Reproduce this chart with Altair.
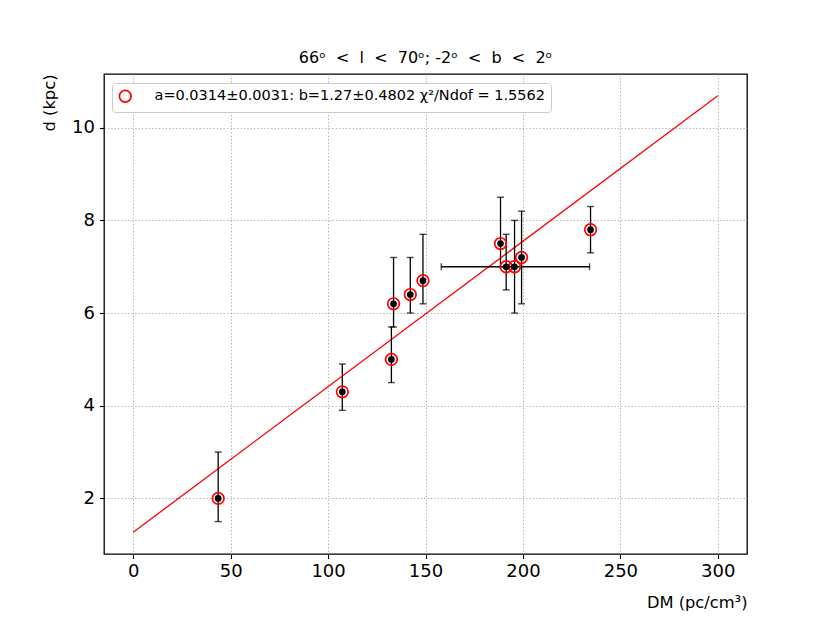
import altair as alt
import pandas as pd

# ---- data ----
dm = [43.6, 107.3, 132.5, 133.6, 142.2, 148.7, 188.5, 191.4, 195.7, 199.3, 234.7]
d = [2.0, 4.3, 5.0, 6.2, 6.4, 6.7, 7.5, 7.0, 7.0, 7.2, 7.8]
d_lo = [1.5, 3.9, 4.5, 5.7, 6.0, 6.2, 7.0, 6.5, 6.0, 6.2, 7.3]
d_hi = [3.0, 4.9, 5.7, 7.2, 7.2, 7.7, 8.5, 7.7, 8.0, 8.2, 8.3]

# horizontal error bar (only one point has a DM error)
hx = [195.7]
hy = [7.0]
hx_lo = [158.1]
hx_hi = [234.2]

fit_x = [0, 300]
fit_y = [1.27, 10.69]

legend_label = "a=0.0314±0.0031: b=1.27±0.4802 χ²/Ndof = 1.5562"
NB = "\u00a0"
title_text = f"66ᵒ{NB}{NB}<{NB}{NB}l{NB}{NB}<{NB}{NB}70ᵒ; -2ᵒ{NB}{NB}<{NB}{NB}b{NB}{NB}<{NB}{NB}2ᵒ"

pts = pd.DataFrame({"dm": dm, "d": d, "lo": d_lo, "hi": d_hi, "lab": [legend_label] * len(dm)})
hbar = pd.DataFrame({"x": hx, "y": hy, "xlo": hx_lo, "xhi": hx_hi})
fit = pd.DataFrame({"x": fit_x, "y": fit_y})

FONT = "DejaVu Sans"
xs = alt.Scale(domain=[-15, 315], nice=False, zero=False)
ys = alt.Scale(domain=[0.80, 11.16], nice=False, zero=False)

GRID = dict(grid=True, gridColor="#b0b0b0", gridDash=[1.3, 2.1], gridWidth=1.0,
            domain=False, tickColor="black", tickSize=4.5, tickWidth=1.1,
            labelColor="black", titleColor="black", labelFont=FONT, titleFont=FONT,
            labelFontSize=18, titleFontSize=16.3, titleFontWeight="normal")

xaxis = alt.Axis(values=[0, 50, 100, 150, 200, 250, 300], title="DM (pc/cm³)",
                 titleAnchor="end", titlePadding=14, labelPadding=4, **GRID)
yaxis = alt.Axis(values=[2, 4, 6, 8, 10], title="d (kpc)", titleAnchor="end",
                 titlePadding=14, labelPadding=5, **GRID)

base = alt.Chart(pts)

fit_line = alt.Chart(fit).mark_line(color="red", strokeWidth=1.3).encode(
    x=alt.X("x:Q", scale=xs, axis=xaxis),
    y=alt.Y("y:Q", scale=ys, axis=yaxis),
)

vbars = base.mark_rule(color="black", strokeWidth=1.3).encode(
    x=alt.X("dm:Q", scale=xs), y=alt.Y("lo:Q", scale=ys), y2="hi:Q"
)
cap_lo = base.mark_tick(color="black", orient="horizontal", size=7, thickness=1.4).encode(
    x=alt.X("dm:Q", scale=xs), y=alt.Y("lo:Q", scale=ys)
)
cap_hi = base.mark_tick(color="black", orient="horizontal", size=7, thickness=1.4).encode(
    x=alt.X("dm:Q", scale=xs), y=alt.Y("hi:Q", scale=ys)
)

hb = alt.Chart(hbar)
hrule = hb.mark_rule(color="black", strokeWidth=1.3).encode(
    x=alt.X("xlo:Q", scale=xs), x2="xhi:Q", y=alt.Y("y:Q", scale=ys)
)
hcap_lo = hb.mark_tick(color="black", orient="vertical", size=7, thickness=1.4).encode(
    x=alt.X("xlo:Q", scale=xs), y=alt.Y("y:Q", scale=ys)
)
hcap_hi = hb.mark_tick(color="black", orient="vertical", size=7, thickness=1.4).encode(
    x=alt.X("xhi:Q", scale=xs), y=alt.Y("y:Q", scale=ys)
)

rings = base.mark_point(shape="circle", filled=False, size=135, strokeWidth=1.7, opacity=1).encode(
    x=alt.X("dm:Q", scale=xs),
    y=alt.Y("d:Q", scale=ys),
    color=alt.Color("lab:N", scale=alt.Scale(range=["red"]),
                    legend=alt.Legend(title=None, orient="none", legendX=8, legendY=9,
                                      fillColor="white", strokeColor="#cccccc",
                                      padding=6, cornerRadius=3, labelFontSize=14.5,
                                      labelFont=FONT, labelColor="black",
                                      symbolSize=135, symbolStrokeWidth=1.7,
                                      symbolType="circle", labelOffset=22, labelLimit=600)),
)

dots = base.mark_point(shape="circle", filled=True, size=45, color="black", opacity=1).encode(
    x=alt.X("dm:Q", scale=xs), y=alt.Y("d:Q", scale=ys)
)

chart = alt.layer(fit_line, vbars, cap_lo, cap_hi, hrule, hcap_lo, hcap_hi, rings, dots).properties(
    width=643, height=480,
    background="white",
    title=alt.TitleParams(title_text, fontSize=16, fontWeight="normal", font=FONT,
                          anchor="middle", offset=8, color="black"),
    autosize=alt.AutoSizeParams(type="none"),
    padding={"left": 96, "top": 66, "right": 75, "bottom": 61},
).configure_view(
    stroke="black", strokeWidth=1.3
)

chart.save("out.html", embed_options={"renderer": "svg", "actions": False})
